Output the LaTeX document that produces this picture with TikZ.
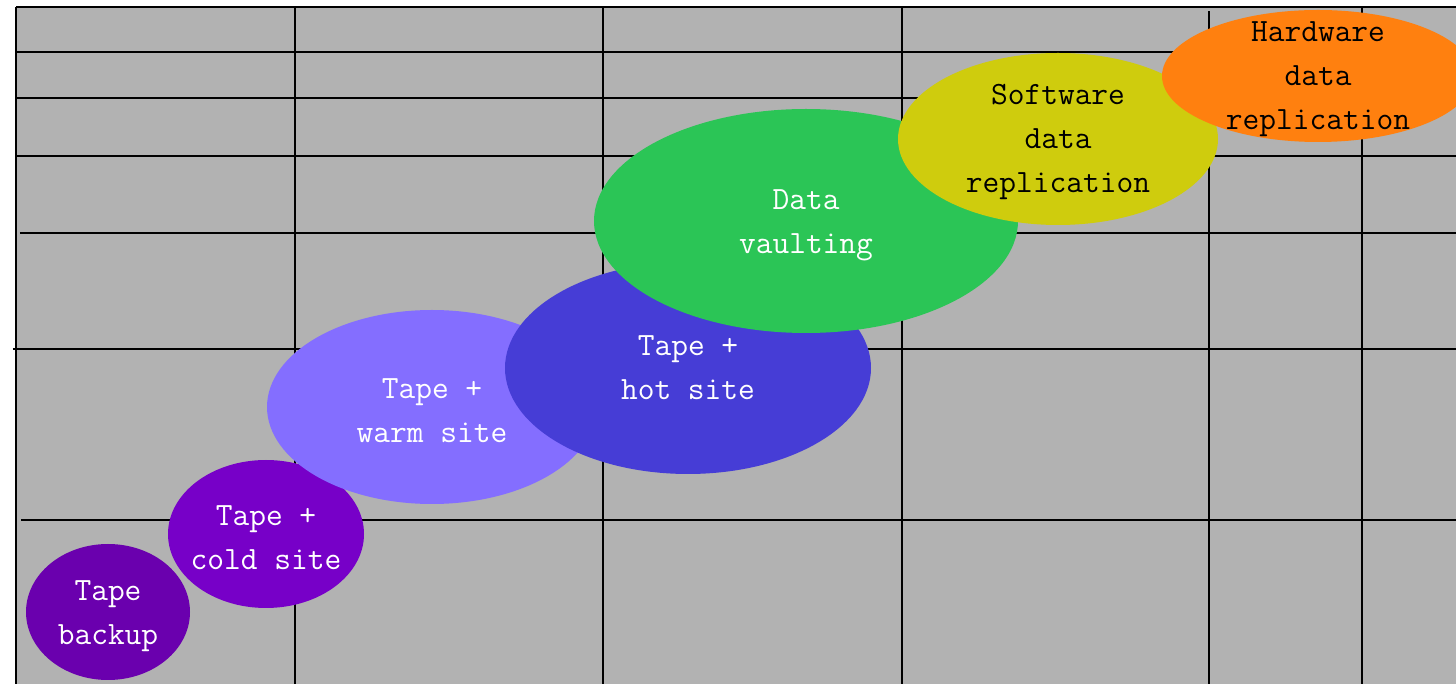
\documentclass[tikz,border=0pt]{standalone}
\usepackage{xcolor}
\usetikzlibrary{calc,positioning}

\begin{document}
\begin{tikzpicture}
                    \useasboundingbox (0,0) rectangle (29.120000,13.680000);
                    \clip (0,0) rectangle (29.120000,13.680000);
                    {\ttfamily\fontsize{18.5}{25}\selectfont

                    % Filling background
                    \definecolor{r178g178b178}{rgb}{0.698039,0.698039,0.698039}%
                    \fill [r178g178b178] (0.320000,0.000000) rectangle (29.120000,13.540000);%

                    % Drawing horizontal grid lines
                    \draw [line width=0.036cm] (0.320000,13.540000) -- (29.120000,13.540000);%
                    \draw [line width=0.036cm] (0.320000,12.640000) -- (29.120000,12.640000);%
                    \draw [line width=0.036cm] (0.320000,11.720000) -- (29.120000,11.720000);%
                    \draw [line width=0.036cm] (0.320000,10.560000) -- (29.120000,10.560000);%
                    \draw [line width=0.036cm] (0.400000,9.020000) -- (29.120000,9.020000);%
                    \draw [line width=0.036cm] (0.260000,6.700000) -- (29.120000,6.700000);%
                    \draw [line width=0.036cm] (0.420000,3.280000) -- (29.120000,3.280000);%

                    % Drawing vertical grid lines
                    \draw [line width=0.036cm] (0.320000,0.000000) -- (0.320000,13.540000);%
                    \draw [line width=0.036cm] (5.900000,0.000000) -- (5.900000,13.540000);%
                    \draw [line width=0.036cm] (12.060000,0.000000) -- (12.060000,13.540000);%
                    \draw [line width=0.036cm] (18.040000,0.000000) -- (18.040000,13.540000);%
                    \draw [line width=0.036cm] (24.180000,0.000000) -- (24.180000,13.460000);%
                    \draw [line width=0.036cm] (27.240000,0.000000) -- (27.240000,13.540000);%

                    % Drawing ellipse Tape backup
                    \definecolor{r106g0b174}{rgb}{0.415686,0.000000,0.682353}%
                    \fill [r106g0b174] (2.160000,1.440000) ellipse (1.640000 and 1.360000);%
                    \draw (2.160000,1.360000) node (tapebackup) [anchor=center,align=center,text=white] {Tape\\backup};%

                    % Drawing ellipse Tape + cold site
                    \definecolor{r119g0b200}{rgb}{0.466667,0.000000,0.784314}%
                    \fill [r119g0b200] (5.320000,3.000000) ellipse (1.960000 and 1.480000);%
                    \draw (5.320000,2.920000) node (coldsite) [anchor=center,align=center,text=white] {Tape +\\cold site};%

                    % Drawing ellipse Tape + warm site
                    \definecolor{r132g110b255}{rgb}{0.517647,0.431373,1.000000}%
                    \fill [r132g110b255] (8.640000,5.540000) ellipse (3.300000 and 1.940000);%
                    \draw (8.640000,5.460000) node (warmsite) [anchor=center,align=center,text=white] {Tape +\\warm site};%

                    % Drawing ellipse Tape + hot site
                    \definecolor{r70g61b214}{rgb}{0.274510,0.239216,0.839216}%
                    \fill [r70g61b214] (13.760000,6.320000) ellipse (3.660000 and 2.120000);%
                    \draw (13.760000,6.320000) node (hotsite) [anchor=center,align=center,text=white] {Tape +\\hot site};%

                    % Drawing ellipse Data vaulting
                    \definecolor{r43g197b86}{rgb}{0.168627,0.772549,0.337255}%
                    \fill [r43g197b86] (16.120000,9.260000) ellipse (4.240000 and 2.240000);%
                    \draw (16.120000,9.180000) node (vaulting) [anchor=center,align=center,text=white] {Data\\vaulting};%

                    % Drawing ellipse Software data replication
                    \definecolor{r207g204b13}{rgb}{0.811765,0.800000,0.050980}%
                    \fill [r207g204b13] (21.160000,10.900000) ellipse (3.200000 and 1.720000);%
                    \draw (21.160000,10.840000) node (softrepl) [anchor=center,align=center,text=black] {Software\\data\\replication};%

                    % Drawing ellipse Hardware data replication
                    \definecolor{r255g128b15}{rgb}{1.000000,0.501961,0.058824}%
                    \fill [r255g128b15] (26.360000,12.160000) ellipse (3.120000 and 1.320000);%
                    \draw (26.360000,12.100000) node (hardrepl) [anchor=center,align=center,text=black] {Hardware\\data\\replication};%
                    \color{black}
                    }
                \end{tikzpicture}
\end{document}
